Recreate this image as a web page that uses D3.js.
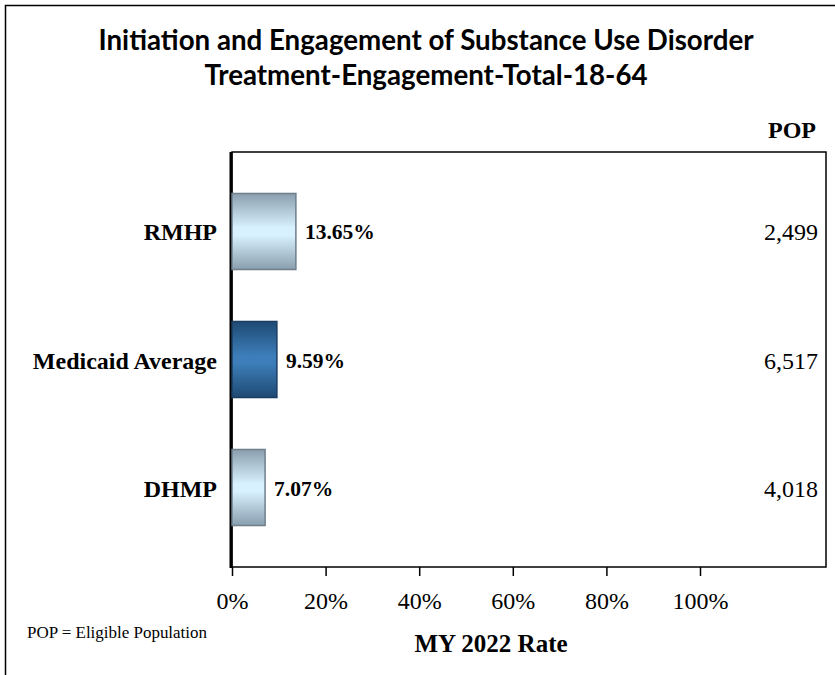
<!DOCTYPE html>
<html><head><meta charset="utf-8">
<script src="https://cdn.jsdelivr.net/npm/d3@7"></script>
<style>body{margin:0;background:#fff}svg{display:block}</style>
</head><body>
<script>
const categories = ["RMHP", "Medicaid Average", "DHMP"];
const rates = [13.65, 9.59, 7.07];
const pops = [2499, 6517, 4018];
const highlight = [false, true, false];
const xTicks = [0, 20, 40, 60, 80, 100];
const titleLines = ["Initiation and Engagement of Substance Use Disorder", "Treatment-Engagement-Total-18-64"];

(function () {
const W = 835, H = 675;
const svg = d3.select("body").append("svg").attr("width", W).attr("height", H);
const defs = svg.append("defs");
function grad(id, stops) {
  const g = defs.append("linearGradient").attr("id", id).attr("x1", 0).attr("y1", 0).attr("x2", 0).attr("y2", 1);
  stops.forEach(s => g.append("stop").attr("offset", s[0]).attr("stop-color", s[1]));
}
grad("light", [[0, "#8a9eae"], [0.45, "#d8f1ff"], [0.55, "#d8f1ff"], [1, "#8a9eae"]]);
grad("dark", [[0, "#1e4a73"], [0.45, "#3d7db9"], [0.55, "#3d7db9"], [1, "#1e4a73"]]);

// outer frame
svg.append("path").attr("d", `M5.5,${H} V5.5 H${W}`).attr("fill", "none").attr("stroke", "#000").attr("stroke-width", 1.5);

const serif = "'Liberation Serif','Times New Roman',serif";
const pl = 232, pr = 826, pt = 152, pb = 567;
const x = d3.scaleLinear().domain([0, 100]).range([pl, 700]);
const y = d3.scaleBand().domain(categories).range([pt, pb]).paddingInner(0.406).paddingOuter(0.324);

// title
svg.append("g").selectAll("text").data(titleLines).join("text")
  .attr("x", 426).attr("y", (d, i) => 50 + i * 35)
  .attr("text-anchor", "middle").attr("font-family", "Lato, 'Open Sans', sans-serif")
  .attr("font-weight", "bold").attr("font-size", 27.7).text(d => d);

// plot box
svg.append("rect").attr("x", pl).attr("y", pt).attr("width", pr - pl).attr("height", pb - pt)
  .attr("fill", "none").attr("stroke", "#000").attr("stroke-width", 1.5);
svg.append("line").attr("x1", pl - 1).attr("x2", pl - 1).attr("y1", pt).attr("y2", pb + 1)
  .attr("stroke", "#000").attr("stroke-width", 3);

// bars
const rows = categories.map((c, i) => ({c, r: rates[i], p: pops[i], h: highlight[i]}));
svg.append("g").selectAll("rect").data(rows).join("rect")
  .attr("x", pl).attr("y", d => y(d.c)).attr("width", d => x(d.r) - pl).attr("height", y.bandwidth())
  .attr("fill", d => d.h ? "url(#dark)" : "url(#light)")
  .attr("stroke", d => d.h ? "#1b3d60" : "#6f7f8c").attr("stroke-width", 1.5);

// value labels
svg.append("g").selectAll("text").data(rows).join("text")
  .attr("x", d => x(d.r) + 9).attr("y", d => y(d.c) + y.bandwidth() / 2 + 8)
  .attr("font-family", serif).attr("font-weight", "bold").attr("font-size", 21.5)
  .text(d => d.r.toFixed(2) + "%");

// category labels
svg.append("g").selectAll("text").data(rows).join("text")
  .attr("x", 217).attr("y", d => y(d.c) + y.bandwidth() / 2 + 9)
  .attr("text-anchor", "end").attr("font-family", serif).attr("font-weight", "bold").attr("font-size", 24)
  .text(d => d.c);

// pop values
const fmt = d3.format(",");
svg.append("g").selectAll("text").data(rows).join("text")
  .attr("x", 818).attr("y", d => y(d.c) + y.bandwidth() / 2 + 9)
  .attr("text-anchor", "end").attr("font-family", serif).attr("font-size", 24)
  .text(d => fmt(d.p));
svg.append("text").attr("x", 816).attr("y", 138).attr("text-anchor", "end")
  .attr("font-family", serif).attr("font-weight", "bold").attr("font-size", 24).text("POP");

// x axis
const xAxis = d3.axisBottom(x).tickValues(xTicks).tickFormat(d => d + "%").tickSize(9).tickPadding(16);
const ax = svg.append("g").attr("transform", `translate(0,${pb})`).call(xAxis);
ax.select(".domain").remove();
ax.selectAll(".tick line").attr("stroke", "#000").attr("stroke-width", 1.5);
ax.selectAll(".tick text").attr("font-family", serif).attr("font-size", 24).attr("fill", "#000");

svg.append("text").attr("x", 491).attr("y", 652).attr("text-anchor", "middle")
  .attr("font-family", serif).attr("font-weight", "bold").attr("font-size", 25).text("MY 2022 Rate");
svg.append("text").attr("x", 27).attr("y", 638)
  .attr("font-family", serif).attr("font-size", 16)
  .attr("textLength", 180).attr("lengthAdjust", "spacingAndGlyphs").text("POP = Eligible Population");
})();
</script>
</body></html>
